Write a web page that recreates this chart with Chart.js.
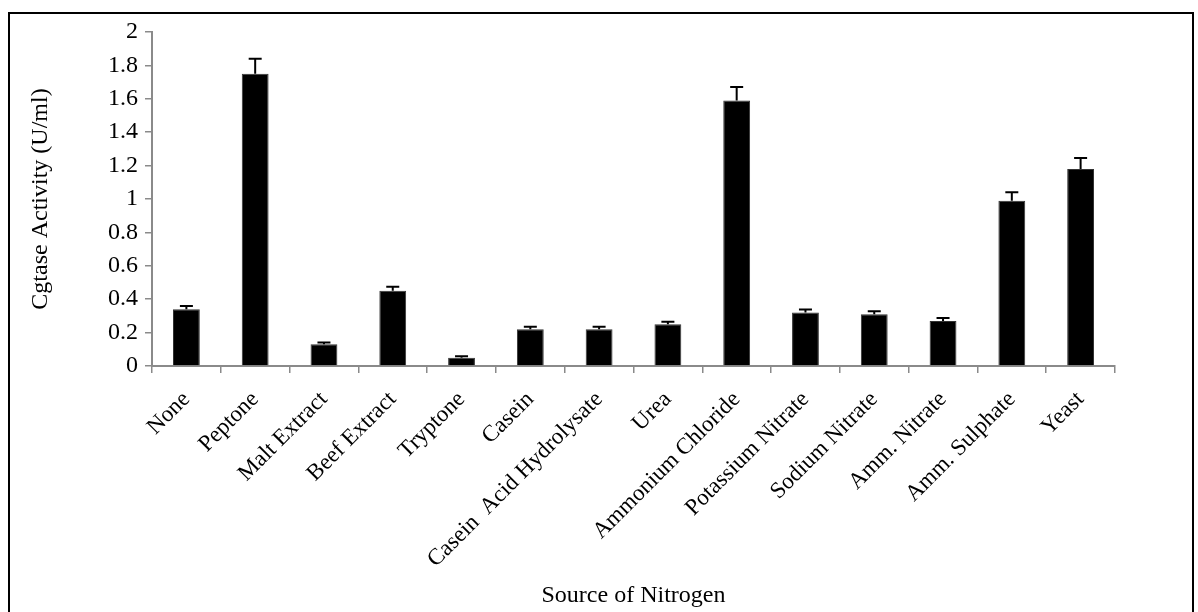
<!DOCTYPE html>
<html>
<head>
<meta charset="utf-8">
<script src="https://cdn.jsdelivr.net/npm/chart.js@4/dist/chart.umd.min.js"></script>
<style>
  html, body { margin: 0; padding: 0; background: #fff; }
  #wrap { position: relative; width: 1198px; height: 612px; overflow: hidden; }
  #frame { position: absolute; left: 8px; top: 12px; width: 1186px; height: 660px; border: 2px solid #000; box-sizing: border-box; pointer-events: none; }
  #c { position: absolute; left: 0; top: 0; }
</style>
</head>
<body>
<div id="wrap">
  <canvas id="c" width="1198" height="612"></canvas>
  <div id="frame"></div>
</div>
<script>
// nitrogen sources and measured activity
const sources = [
  'None', 'Peptone', 'Malt Extract', 'Beef Extract', 'Tryptone', 'Casein',
  'Casein  Acid Hydrolysate', 'Urea', 'Ammonium Chloride', 'Potassium Nitrate',
  'Sodium Nitrate', 'Amm. Nitrate', 'Amm. Sulphate', 'Yeast'
];
const activity = [0.34, 1.75, 0.13, 0.45, 0.05, 0.22, 0.22, 0.25, 1.59, 0.32, 0.31, 0.27, 0.99, 1.18];
const errors = [0.02, 0.09, 0.01, 0.025, 0.008, 0.015, 0.015, 0.015, 0.08, 0.018, 0.018, 0.018, 0.05, 0.065];
const yTicks = [0, 0.2, 0.4, 0.6, 0.8, 1, 1.2, 1.4, 1.6, 1.8, 2];

const serif = 'Liberation Serif, Times New Roman, serif';
const axisGrey = '#8a8a8a';

// upper error bars
const errorBars = {
  id: 'errorBars',
  afterDatasetsDraw(chart) {
    const ctx = chart.ctx;
    const y = chart.scales.y;
    const meta = chart.getDatasetMeta(0);
    ctx.save();
    ctx.strokeStyle = '#000';
    ctx.lineWidth = 2;
    meta.data.forEach((bar, i) => {
      const top = y.getPixelForValue(activity[i] + errors[i]);
      ctx.beginPath();
      ctx.moveTo(bar.x, bar.y);
      ctx.lineTo(bar.x, top);
      ctx.moveTo(bar.x - 6.5, top);
      ctx.lineTo(bar.x + 6.5, top);
      ctx.stroke();
    });
    ctx.restore();
  }
};

new Chart(document.getElementById('c'), {
  type: 'bar',
  data: {
    labels: sources,
    datasets: [{
      data: activity,
      backgroundColor: '#000',
      borderColor: '#333',
      borderWidth: 1,
      barPercentage: 0.39,
      categoryPercentage: 1
    }]
  },
  options: {
    responsive: false,
    animation: false,
    events: [],
    layout: { padding: { left: 26, top: 32, right: 83, bottom: 2 } },
    plugins: {
      legend: { display: false },
      tooltip: { enabled: false }
    },
    scales: {
      x: {
        afterFit: s => { s.height = 612 - 366 - 2; },
        grid: { offset: true, drawOnChartArea: false, color: axisGrey, lineWidth: 1.5, tickLength: 7 },
        border: { color: axisGrey, width: 2 },
        ticks: {
          autoSkip: false, minRotation: 45, maxRotation: 45, padding: 13,
          color: '#000', font: { family: serif, size: 23 }
        },
        title: {
          display: true, text: 'Source of Nitrogen', color: '#000',
          font: { family: serif, size: 24 }, padding: { top: 4, bottom: 0 }
        }
      },
      y: {
        min: 0, max: 2,
        afterFit: s => { s.width = 152 - 26; },
        afterBuildTicks: s => { s.ticks = yTicks.map(v => ({ value: v })); },
        grid: { drawOnChartArea: false, color: axisGrey, lineWidth: 1.5, tickLength: 7 },
        border: { color: axisGrey, width: 2 },
        ticks: {
          padding: 7, color: '#000', font: { family: serif, size: 24 },
          callback: v => String(Math.round(v * 10) / 10)
        },
        title: {
          display: true, text: 'Cgtase Activity (U/ml)', color: '#000',
          font: { family: serif, size: 24 }, padding: { top: 0, bottom: 0 }
        }
      }
    }
  },
  plugins: [errorBars]
});
</script>
</body>
</html>
